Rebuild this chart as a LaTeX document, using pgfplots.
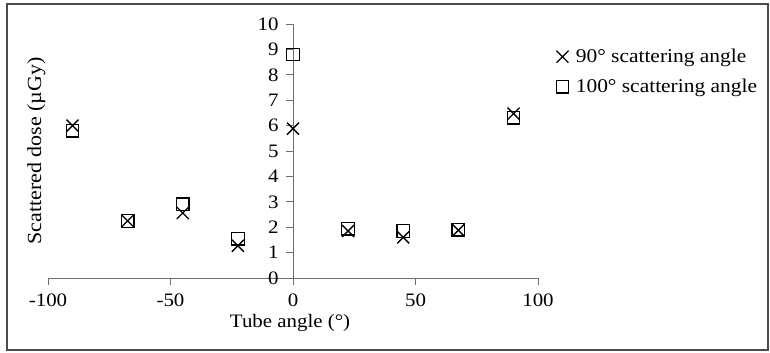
\documentclass[border=0pt]{standalone}
\usepackage{fontspec}
\setmainfont{Liberation Serif}[FakeStretch=1.1]
\usepackage{pgfplots}
\pgfplotsset{compat=1.18}
\definecolor{axgray}{HTML}{6E6E6E}
\definecolor{framegray}{HTML}{4A4A4A}
\begin{document}
\begin{tikzpicture}[x=1bp,y=1bp]
\useasboundingbox (0,0) rectangle (770,-352);
\draw[framegray, line width=1.6bp] (7,-4) rectangle (768,-350);
\begin{axis}[
  at={(48bp,-278bp)}, anchor=south west,
  scale only axis, width=490bp, height=254bp,
  xmin=-100, xmax=100, ymin=0, ymax=10,
  axis lines=middle,
  axis line style={axgray, line width=1bp, -},
  xtick={-100,-50,0,50,100},
  ytick={0,1,...,10},
  hide obscured x ticks=false, hide obscured y ticks=false,
  tick align=outside,
  major tick length=7bp,
  tick style={axgray, line width=1bp},
  /pgf/number format/assume math mode=true,
  every tick label/.append style={font=\fontsize{19bp}{22bp}\selectfont, text=black},
  xticklabel style={anchor=center, yshift=-15bp},
  yticklabel style={anchor=east, xshift=-4bp},
  xlabel={Tube angle (°)},
  ylabel={Scattered dose (µGy)},
  xlabel style={at={(axis description cs:0.494,-0.177)}, anchor=center, font=\fontsize{19bp}{22bp}\selectfont},
  ylabel style={at={(axis description cs:-0.024,0.5)}, anchor=center, rotate=90, font=\fontsize{20bp}{22bp}\selectfont},
  legend style={draw=none, fill=none, at={(rel axis cs:1,1)}, anchor=north west,
    xshift=18bp, yshift=-23bp, font=\fontsize{19.5bp}{22bp}\selectfont,
    row sep=11bp, inner sep=0pt,
    /tikz/every odd column/.append style={column sep=5bp}},
  legend cell align=left,
  legend image code/.code={\draw[mark repeat=2,mark phase=2,#1] plot coordinates {(0bp,0bp) (6bp,0bp) (12bp,0bp)};},
  clip=false,
]
\addplot[only marks, mark=x, mark size=8.5bp, mark options={line width=1.3bp, black}] coordinates {
  (-90,6.0) (-67.5,2.25) (-45,2.56) (-22.5,1.27) (0,5.88) (22.5,1.85) (45,1.6) (67.5,1.88) (90,6.47)
};
\addlegendentry{90° scattering angle}
\addplot[only marks, mark=square, mark size=6.3bp, mark options={line width=1.3bp, black}] coordinates {
  (-90,5.8) (-67.5,2.25) (-45,2.9) (-22.5,1.55) (0,8.8) (22.5,1.94) (45,1.85) (67.5,1.9) (90,6.31)
};
\addlegendentry{100° scattering angle}
\end{axis}
\end{tikzpicture}
\end{document}
